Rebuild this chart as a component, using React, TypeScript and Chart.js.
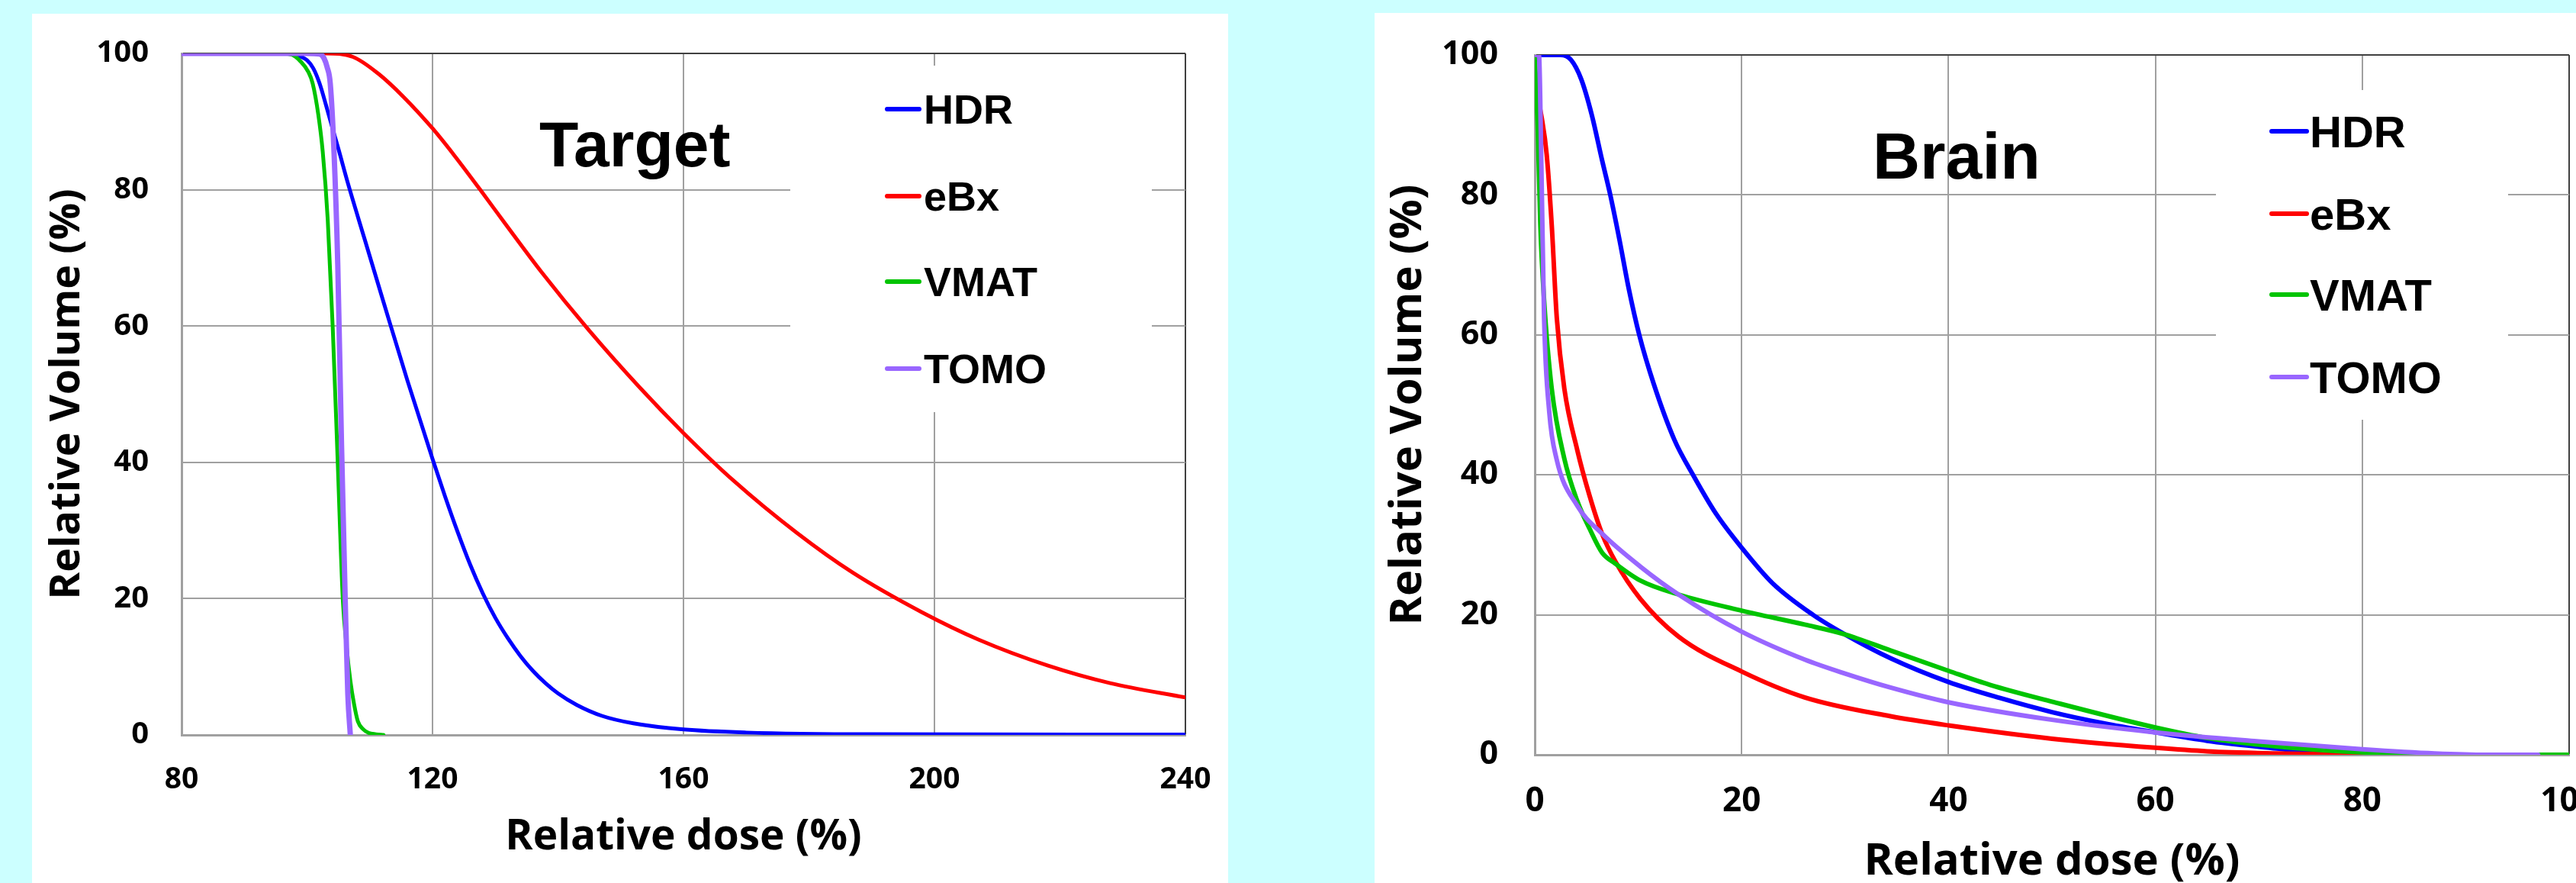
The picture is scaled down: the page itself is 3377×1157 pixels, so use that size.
import React, { useEffect, useRef } from 'react';
import { Chart, registerables } from 'chart.js';

Chart.register(...registerables);

// ---------------- DATA ----------------
const seriesNames = ['HDR', 'eBx', 'VMAT', 'TOMO'];

// Target panel
const targetXTicks = [80, 120, 160, 200, 240];
const targetYTicks = [0, 20, 40, 60, 80, 100];

const targetHdrDose = [80, 96, 98, 100, 101, 102, 103, 104, 105, 106.5, 109, 112.2, 116, 120, 122, 124, 126, 128, 130, 132, 134, 136, 138, 140, 143, 147, 152, 160, 170, 190, 240];
const targetHdrVol = [100, 100, 99.8, 99, 97.8, 95.6, 92.5, 89.2, 86, 81, 73.3, 63.5, 52, 40.5, 35, 29.8, 25, 20.8, 17.2, 14.2, 11.6, 9.4, 7.6, 6.1, 4.4, 2.8, 1.7, 0.8, 0.35, 0.1, 0.05];

const targetEbxDose = [88, 100, 103, 107.3, 111.4, 115.4, 120, 123.5, 127.6, 131.6, 137.3, 145, 153, 160, 168, 178, 187, 198, 207, 218, 228, 240];
const targetEbxVol = [100, 100, 100, 99.5, 97, 93.6, 89, 85, 80, 75, 68, 59.3, 51, 44.3, 37.3, 29.7, 23.8, 18, 14, 10.2, 7.6, 5.5];

const targetVmatDose = [80, 96, 97.6, 99, 100.2, 100.9, 101.8, 102.5, 103.3, 104.1, 104.9, 105.7, 106.3, 106.9, 107.5, 108.1, 109, 109.8, 111, 112.2];
const targetVmatVol = [100, 100, 99.8, 98.8, 97.3, 95.6, 91, 85.6, 75.6, 59.7, 39.8, 19.9, 13, 8, 4.5, 2, 0.8, 0.3, 0.1, 0];

const targetTomoDose = [80, 100, 102, 102.7, 103.2, 103.7, 104.3, 104.9, 105.5, 106.1, 106.5, 106.9];
const targetTomoVol = [100, 100, 99.9, 99.3, 98, 95.6, 85.6, 69, 42.5, 19.3, 6, 0];

// Brain panel
const brainXTicks = [0, 20, 40, 60, 80, 100];
const brainYTicks = [0, 20, 40, 60, 80, 100];

const brainHdrDose = [0, 2.5, 3.5, 4.5, 5.5, 6.5, 7.3, 8.2, 9.1, 10.1, 11.5, 13.5, 15.3, 17.5, 20, 23, 26.9, 30, 34.4, 40, 45, 50, 55, 60, 65, 71.7, 76.4, 80];
const brainHdrVol = [100, 100, 99.3, 96.5, 91.5, 85, 80, 73.5, 66.5, 60, 53, 45, 40, 34.5, 29.6, 24.5, 20, 17.2, 13.8, 10.4, 8.1, 6.1, 4.5, 3.2, 2, 0.9, 0.2, 0];

const brainEbxDose = [0, 0.66, 1.15, 1.64, 2.13, 2.86, 4.1, 5.3, 6.5, 7.8, 10.2, 13.9, 20, 26.1, 34.4, 40, 50, 60, 65, 71.7, 80];
const brainEbxVol = [95.8, 91.1, 85.8, 75.7, 62.4, 52.3, 43.6, 37, 31.6, 27.6, 22.3, 16.9, 11.9, 8.2, 5.5, 4.2, 2.3, 1.0, 0.5, 0.2, 0];

const brainVmatDose = [0, 0.3, 0.54, 0.9, 1.64, 2.86, 4.1, 5.3, 6.5, 7.8, 10.2, 13.9, 20, 26.1, 30, 34.4, 40, 44, 50, 60, 65, 71.7, 78, 82.7, 90, 100];
const brainVmatVol = [100, 89, 75.7, 65, 52.3, 42.3, 36.3, 32.3, 28.9, 27.3, 24.9, 22.9, 20.6, 18.6, 17.2, 14.9, 12, 10, 7.6, 3.9, 2.4, 1.2, 0.5, 0.2, 0, 0];

const brainTomoDose = [0, 0.4, 0.66, 0.9, 1.4, 2.1, 4.1, 6.5, 10.2, 13.9, 20, 26.1, 30, 34.4, 40, 50, 60, 70, 80, 87, 92, 97];
const brainTomoVol = [100, 100, 82.4, 62.4, 49, 42.3, 35.6, 31.6, 26.9, 22.9, 17.6, 13.6, 11.6, 9.6, 7.5, 5, 3.2, 1.9, 0.8, 0.2, 0, 0];

// ---------------- STYLE / LAYOUT ----------------
const seriesColors = ['#0000FF', '#FF0000', '#00C400', '#9966FF'];
const BG = '#CCFFFF';
const GRID = '#A0A0A0';
const EDGE = '#404040';
const TICK_FONT = 'Open Sans';
const LABEL_FONT = 'Liberation Sans';

const toPoints = (xs: number[], ys: number[]) => xs.map((x, i) => ({ x, y: ys[i] }));

type PanelCfg = {
  left: number; top: number; width: number; height: number;
  padTop: number; padRight: number; yAxisWidth: number; xAxisHeight: number;
  xMin: number; xMax: number; xTicks: number[]; yTicks: number[];
  series: { x: number[]; y: number[] }[];
  lineWidths: number[];
  yTickSize: number; yTickPad: number;
  xTickSize: number; xTickPad: number;
  yTitleSize: number; yTitlePad: number;
  xTitleSize: number; xTitlePad: number;
  title: string; titleX: number; titleY: number; titleSize: number;
  box: [number, number, number, number];
  legX1: number; legX2: number; legTextX: number; legYs: number[]; legSize: number;
};

const panels: PanelCfg[] = [
  {
    left: 42, top: 18, width: 1568, height: 1139,
    padTop: 52, padRight: 56, yAxisWidth: 196, xAxisHeight: 194,
    xMin: 80, xMax: 240, xTicks: targetXTicks, yTicks: targetYTicks,
    series: [
      { x: targetHdrDose, y: targetHdrVol },
      { x: targetEbxDose, y: targetEbxVol },
      { x: targetVmatDose, y: targetVmatVol },
      { x: targetTomoDose, y: targetTomoVol },
    ],
    lineWidths: [5, 5, 5, 7],
    yTickSize: 40, yTickPad: 43,
    xTickSize: 39, xTickPad: 35,
    yTitleSize: 54, yTitlePad: 14,
    xTitleSize: 55, xTitlePad: 27,
    title: 'Target', titleX: 665, titleY: 200, titleSize: 84,
    box: [994, 68, 474, 454],
    legX1: 1121, legX2: 1163, legTextX: 1169, legYs: [125, 239, 351, 465], legSize: 54,
  },
  {
    left: 1802, top: 17, width: 1575, height: 1140,
    padTop: 55, padRight: 9, yAxisWidth: 210, xAxisHeight: 168,
    xMin: 0, xMax: 100, xTicks: brainXTicks, yTicks: brainYTicks,
    series: [
      { x: brainHdrDose, y: brainHdrVol },
      { x: brainEbxDose, y: brainEbxVol },
      { x: brainVmatDose, y: brainVmatVol },
      { x: brainTomoDose, y: brainTomoVol },
    ],
    lineWidths: [6, 6, 6, 6],
    yTickSize: 43, yTickPad: 48,
    xTickSize: 44, xTickPad: 35,
    yTitleSize: 58, yTitlePad: 10,
    xTitleSize: 58, xTitlePad: -7,
    title: 'Brain', titleX: 653, titleY: 217, titleSize: 86,
    box: [1103, 101, 383, 432],
    legX1: 1176, legX2: 1222, legTextX: 1226, legYs: [155, 263, 369, 477], legSize: 58,
  },
];

const overlayPlugin = {
  id: 'overlay',
  afterDraw(chart: any, _args: any, opts: any) {
    const c: PanelCfg = opts.cfg;
    if (!c) return;
    const ctx = chart.ctx as CanvasRenderingContext2D;
    ctx.save();
    ctx.fillStyle = '#FFFFFF';
    ctx.fillRect(c.box[0], c.box[1], c.box[2], c.box[3]);
    ctx.lineCap = 'round';
    chart.data.datasets.forEach((ds: any, i: number) => {
      const y = c.legYs[i];
      ctx.strokeStyle = ds.borderColor;
      ctx.lineWidth = 6;
      ctx.beginPath();
      ctx.moveTo(c.legX1, y);
      ctx.lineTo(c.legX2, y);
      ctx.stroke();
      ctx.fillStyle = '#000';
      ctx.font = `bold ${c.legSize}px "${LABEL_FONT}"`;
      ctx.textBaseline = 'alphabetic';
      ctx.textAlign = 'left';
      ctx.fillText(ds.label, c.legTextX, y + 0.358 * c.legSize);
    });
    ctx.fillStyle = '#000';
    ctx.font = `bold ${c.titleSize}px "${LABEL_FONT}"`;
    ctx.textBaseline = 'alphabetic';
    ctx.fillText(c.title, c.titleX, c.titleY);
    ctx.restore();
  },
};

function buildConfig(c: PanelCfg): any {
  const datasets = c.series.map((s, i) => ({
    label: seriesNames[i],
    data: toPoints(s.x, s.y),
    borderColor: seriesColors[i],
    backgroundColor: seriesColors[i],
    borderWidth: c.lineWidths[i],
    pointRadius: 0,
    pointHoverRadius: 0,
    fill: false,
    cubicInterpolationMode: 'monotone',
    borderJoinStyle: 'round',
    borderCapStyle: 'round',
    order: 4 - i,
  }));
  const tickFont = (size: number) => ({ family: TICK_FONT, size, weight: 'bold' });
  return {
    type: 'line',
    data: { datasets },
    options: {
      animation: false,
      responsive: false,
      devicePixelRatio: 1,
      events: [],
      layout: { autoPadding: false, padding: { top: c.padTop, right: c.padRight, left: 0, bottom: 0 } },
      plugins: {
        legend: { display: false },
        tooltip: { enabled: false },
        title: { display: false },
        overlay: { cfg: c },
      },
      scales: {
        x: {
          type: 'linear',
          min: c.xMin,
          max: c.xMax,
          afterBuildTicks: (s: any) => { s.ticks = c.xTicks.map((value) => ({ value })); },
          afterFit: (s: any) => { s.height = c.xAxisHeight; s.paddingLeft = 0; s.paddingRight = 0; },
          grid: {
            drawTicks: false,
            color: (ctx: any) => (ctx.tick && ctx.tick.value === c.xMax ? EDGE : GRID),
            lineWidth: 2,
          },
          border: { display: true, color: GRID, width: 3 },
          ticks: { font: tickFont(c.xTickSize), color: '#000', padding: c.xTickPad, maxRotation: 0, autoSkip: false },
          title: {
            display: true, text: 'Relative dose (%)', color: '#000',
            font: { family: TICK_FONT, size: c.xTitleSize, weight: 'bold' },
            padding: { top: 0, bottom: c.xTitlePad },
          },
        },
        y: {
          type: 'linear',
          min: 0,
          max: 100,
          afterBuildTicks: (s: any) => { s.ticks = c.yTicks.map((value) => ({ value })); },
          afterFit: (s: any) => { s.width = c.yAxisWidth; s.paddingTop = 0; s.paddingBottom = 0; },
          grid: {
            drawTicks: false,
            color: (ctx: any) => (ctx.tick && ctx.tick.value === 100 ? EDGE : GRID),
            lineWidth: 2,
          },
          border: { display: true, color: GRID, width: 3 },
          ticks: { font: tickFont(c.yTickSize), color: '#000', padding: c.yTickPad },
          title: {
            display: true, text: 'Relative Volume (%)', color: '#000',
            font: { family: TICK_FONT, size: c.yTitleSize, weight: 'bold' },
            padding: { top: c.yTitlePad, bottom: 0 },
          },
        },
      },
    },
    plugins: [overlayPlugin],
  };
}

function Panel({ cfg }: { cfg: PanelCfg }) {
  const ref = useRef<HTMLCanvasElement>(null);
  useEffect(() => {
    const chart = new Chart(ref.current as HTMLCanvasElement, buildConfig(cfg));
    return () => chart.destroy();
  }, [cfg]);
  return (
    <div style={{ position: 'absolute', left: cfg.left, top: cfg.top, width: cfg.width, height: cfg.height, background: '#FFFFFF' }}>
      <canvas ref={ref} width={cfg.width} height={cfg.height} style={{ display: 'block', width: cfg.width, height: cfg.height }} />
    </div>
  );
}

export default function App() {
  useEffect(() => {
    document.body.style.margin = '0';
    document.body.style.overflow = 'hidden';
  }, []);
  return (
    <div style={{ position: 'absolute', left: 0, top: 0, width: 3377, height: 1157, background: BG, overflow: 'hidden' }}>
      {panels.map((p, i) => <Panel key={i} cfg={p} />)}
    </div>
  );
}
